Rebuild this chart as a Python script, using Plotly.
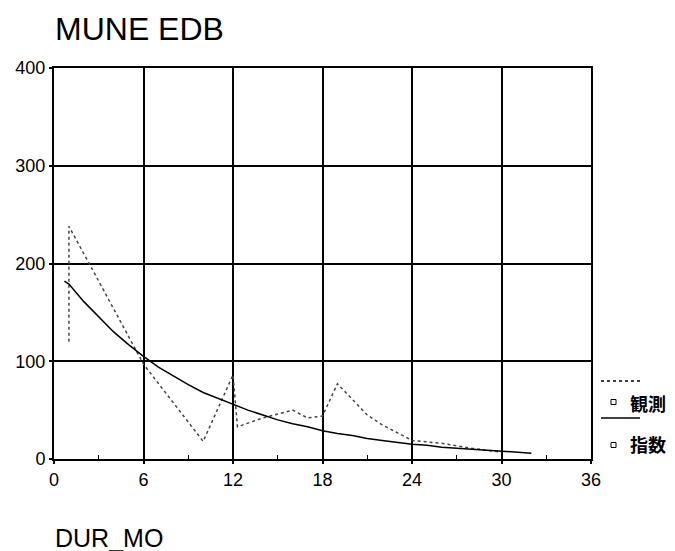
import plotly.graph_objects as go

# Observed values (dotted line)
obs_x = [1, 1, 2.5, 6, 10, 12, 12.3, 14, 16, 17, 18, 19, 21, 22, 24, 26, 28, 30]
obs_y = [120, 238, 196, 97, 18, 86, 33, 42, 50, 42, 44, 77, 45, 35, 19, 16, 11, 7]

# Exponential fit (solid line)
fit_x = [0.7, 1, 2, 3, 4, 5, 6, 7, 8, 9, 10, 11, 12, 13, 14, 15, 16, 17, 18, 19,
         20, 21, 22, 23, 24, 25, 26, 27, 28, 29, 30, 31, 32]
fit_y = [182, 179, 161, 145, 130, 117, 105, 94, 85, 76, 68, 62, 56, 50, 45, 40, 36,
         33, 29, 26, 24, 21, 19, 17, 15, 14, 12, 11, 10, 9, 8, 7, 6]

x_ticks = [0, 6, 12, 18, 24, 30, 36]
y_ticks = [0, 100, 200, 300, 400]
legend_names = ["観測", "指数"]
title_text = "MUNE EDB"
xlabel_text = "DUR_MO"

fig = go.Figure()
fig.add_trace(go.Scatter(x=obs_x, y=obs_y, mode="lines", name=legend_names[0],
                         line=dict(color="#444444", width=1.5, dash="dot")))
fig.add_trace(go.Scatter(x=fit_x, y=fit_y, mode="lines", name=legend_names[1],
                         line=dict(color="black", width=1.5)))

W, H = 675, 551
L, R, T, B = 46, 92, 60, 100
pw, ph = W - L - R, H - T - B


def px(xp):
    return (xp - L) / pw


def py(yp):
    return (H - B - yp) / ph


shapes = []
# legend line samples
shapes.append(dict(type="line", xref="paper", yref="paper", x0=px(593), x1=px(632),
                   y0=py(373), y1=py(373), line=dict(color="black", width=1.5, dash="dot")))
shapes.append(dict(type="line", xref="paper", yref="paper", x0=px(593), x1=px(632),
                   y0=py(410), y1=py(410), line=dict(color="black", width=1.5)))
for cy in (394, 437):
    shapes.append(dict(type="rect", xref="paper", yref="paper", x0=px(603), x1=px(608),
                       y0=py(cy + 2.5), y1=py(cy - 2.5), line=dict(color="black", width=1)))

annotations = [
    dict(text=title_text, xref="paper", yref="paper", x=px(45), y=py(1), xanchor="left",
         yanchor="top", showarrow=False,
         font=dict(family="Liberation Sans, Arial", size=32, color="black")),
    dict(text=xlabel_text, xref="paper", yref="paper", x=px(45), y=py(514), xanchor="left",
         yanchor="top", showarrow=False,
         font=dict(family="Liberation Sans, Arial", size=25, color="black")),
    dict(text="<b>" + legend_names[0] + "</b>", xref="paper", yref="paper", x=px(620), y=py(395),
         xanchor="left", yanchor="middle", showarrow=False,
         font=dict(family="Noto Sans CJK JP", size=18, color="black")),
    dict(text="<b>" + legend_names[1] + "</b>", xref="paper", yref="paper", x=px(620), y=py(436),
         xanchor="left", yanchor="middle", showarrow=False,
         font=dict(family="Noto Sans CJK JP", size=18, color="black")),
]

fig.update_layout(
    width=W, height=H,
    margin=dict(l=L, r=R, t=T, b=B, pad=0, autoexpand=False),
    paper_bgcolor="white", plot_bgcolor="white",
    showlegend=False,
    shapes=shapes, annotations=annotations,
    font=dict(family="Liberation Sans, Arial", size=18, color="black"),
)
fig.update_xaxes(range=[0, 36], tickvals=x_ticks, ticktext=[str(v) for v in x_ticks],
                 showgrid=True, gridcolor="black", gridwidth=2, automargin=False,
                 showline=True, linecolor="black", linewidth=2, mirror=True,
                 ticks="outside", ticklen=3, tickcolor="black", tickwidth=2,
                 zeroline=False,
                 minor=dict(tickvals=[3, 9, 15, 21, 27, 33], ticks="inside", ticklen=4,
                            tickcolor="black", tickwidth=1, showgrid=False),
                 tickfont=dict(size=18))
fig.update_yaxes(range=[0, 400], tickvals=y_ticks, ticktext=[str(v) for v in y_ticks],
                 showgrid=True, gridcolor="black", gridwidth=2, automargin=False,
                 showline=True, linecolor="black", linewidth=2, mirror=True,
                 ticks="outside", ticklen=3, tickcolor="black", tickwidth=2,
                 zeroline=False, tickfont=dict(size=18))

fig.write_html("out.html")
